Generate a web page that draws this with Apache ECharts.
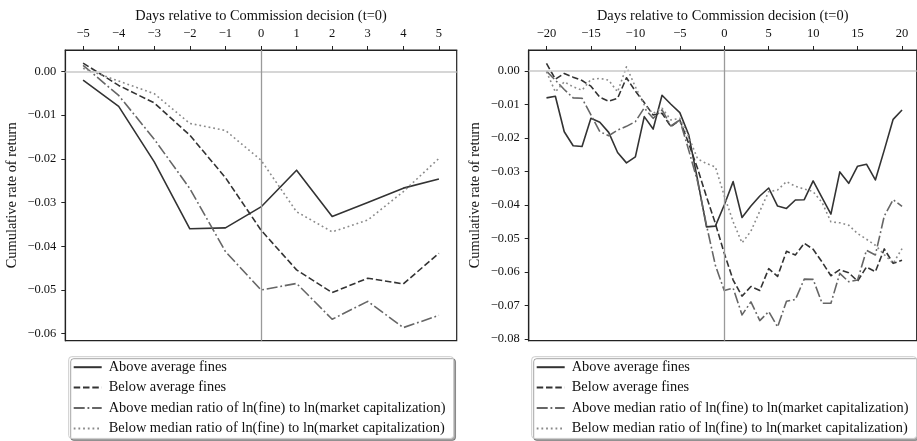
<!DOCTYPE html>
<html>
<head>
<meta charset="utf-8">
<script src="https://cdn.jsdelivr.net/npm/echarts@6/dist/echarts.min.js"></script>
<style>html,body{margin:0;padding:0;background:#fff}#c{width:917px;height:441px}</style>
</head>
<body>
<div id="c"></div>
<script>
const seriesNames = [
  'Above average fines',
  'Below average fines',
  'Above median ratio of ln(fine) to ln(market capitalization)',
  'Below median ratio of ln(fine) to ln(market capitalization)'
];
const xTitle = 'Days relative to Commission decision (t=0)';
const yTitle = 'Cumulative rate of return';

const daysLeft = [-5,-4,-3,-2,-1,0,1,2,3,4,5];
const leftAboveFines = [-0.0020,-0.0080,-0.0207,-0.0360,-0.0358,-0.0310,-0.0226,-0.0332,-0.0300,-0.0267,-0.0246];
const leftBelowFines = [0.0019,-0.0032,-0.0072,-0.0146,-0.0243,-0.0363,-0.0454,-0.0506,-0.0473,-0.0486,-0.0416];
const leftAboveRatio = [0.0014,-0.0055,-0.0155,-0.0268,-0.0412,-0.0500,-0.0485,-0.0567,-0.0526,-0.0586,-0.0558];
const leftBelowRatio = [0.0007,-0.0022,-0.0051,-0.0119,-0.0135,-0.0203,-0.0321,-0.0367,-0.0340,-0.0275,-0.0199];

const daysRight = [-20,-19,-18,-17,-16,-15,-14,-13,-12,-11,-10,-9,-8,-7,-6,-5,-4,-3,-2,-1,0,1,2,3,4,5,6,7,8,9,10,11,12,13,14,15,16,17,18,19,20];
const rightAboveFines = [-0.0080,-0.0075,-0.0181,-0.0223,-0.0225,-0.0141,-0.0153,-0.0183,-0.0243,-0.0274,-0.0256,-0.0136,-0.0173,-0.0072,-0.0099,-0.0124,-0.0190,-0.0325,-0.0465,-0.0463,-0.0400,-0.0330,-0.0437,-0.0403,-0.0373,-0.0349,-0.0403,-0.0410,-0.0385,-0.0384,-0.0328,-0.0378,-0.0427,-0.0301,-0.0335,-0.0284,-0.0278,-0.0325,-0.0236,-0.0144,-0.0116];
const rightBelowFines = [0.0023,-0.0024,-0.0007,-0.0018,-0.0028,-0.0045,-0.0078,-0.0090,-0.0081,-0.0020,-0.0060,-0.0094,-0.0131,-0.0126,-0.0166,-0.0146,-0.0216,-0.0291,-0.0375,-0.0455,-0.0544,-0.0624,-0.0672,-0.0643,-0.0655,-0.0590,-0.0613,-0.0538,-0.0549,-0.0514,-0.0532,-0.0570,-0.0611,-0.0593,-0.0602,-0.0627,-0.0585,-0.0599,-0.0531,-0.0574,-0.0565];
const rightAboveRatio = [0.0000,-0.0027,-0.0055,-0.0080,-0.0081,-0.0131,-0.0181,-0.0193,-0.0176,-0.0165,-0.0151,-0.0110,-0.0141,-0.0116,-0.0164,-0.0146,-0.0236,-0.0330,-0.0460,-0.0580,-0.0655,-0.0648,-0.0728,-0.0689,-0.0745,-0.0718,-0.0764,-0.0687,-0.0682,-0.0621,-0.0622,-0.0693,-0.0693,-0.0604,-0.0629,-0.0624,-0.0535,-0.0549,-0.0433,-0.0384,-0.0404];
const rightBelowRatio = [-0.0002,-0.0062,-0.0032,-0.0047,-0.0057,-0.0025,-0.0022,-0.0027,-0.0062,0.0013,-0.0047,-0.0101,-0.0126,-0.0111,-0.0146,-0.0141,-0.0196,-0.0262,-0.0276,-0.0286,-0.0372,-0.0450,-0.0513,-0.0478,-0.0418,-0.0360,-0.0355,-0.0330,-0.0344,-0.0352,-0.0360,-0.0392,-0.0450,-0.0453,-0.0460,-0.0485,-0.0502,-0.0520,-0.0548,-0.0574,-0.0530];

const xTicksLeft = [-5,-4,-3,-2,-1,0,1,2,3,4,5];
const yTicksLeft = [0,-0.01,-0.02,-0.03,-0.04,-0.05,-0.06];
const xTicksRight = [-20,-15,-10,-5,0,5,10,15,20];
const yTicksRight = [0,-0.01,-0.02,-0.03,-0.04,-0.05,-0.06,-0.07,-0.08];

const FONT = 'Liberation Serif';
const styles = [
  {color:'#333333', type:'solid'},
  {color:'#333333', type:[6.5,2.8]},
  {color:'#666666', type:[11,2.8,1.8,2.8]},
  {color:'#8a8a8a', type:[1.8,2.9]}
];
const fmtX = v => (v < 0 ? '\u2212' : '') + Math.abs(v);
const fmtY = v => (v < -1e-9 ? '\u2212' : '') + Math.abs(v).toFixed(2);

function xAxisCfg(idx, min, max, ticks) {
  return {
    type:'value', gridIndex:idx, position:'top', min:min, max:max,
    name:xTitle, nameLocation:'middle', nameGap:27, nameMoveOverlap:false,
    nameTextStyle:{fontFamily:FONT, fontSize:14.4, color:'#111'},
    axisLine:{show:true, onZero:false, lineStyle:{color:'#222', width:1.2}},
    axisTick:{show:true, inside:false, length:4, customValues:ticks, lineStyle:{color:'#222', width:1}},
    axisLabel:{show:true, customValues:ticks, formatter:fmtX, margin:9.5, fontFamily:FONT, fontSize:12.5, color:'#111'},
    splitLine:{show:false}
  };
}
function yAxisCfg(idx, min, max, ticks) {
  return {
    type:'value', gridIndex:idx, min:min, max:max,
    name:yTitle, nameLocation:'middle', nameGap:46, nameRotate:90,
    nameTextStyle:{fontFamily:FONT, fontSize:14.4, color:'#111'},
    axisLine:{show:true, onZero:false, lineStyle:{color:'#222', width:1.2}},
    axisTick:{show:true, inside:false, length:4, customValues:ticks, lineStyle:{color:'#222', width:1}},
    axisLabel:{show:true, customValues:ticks, formatter:fmtY, margin:9, fontFamily:FONT, fontSize:12.5, color:'#111'},
    splitLine:{show:false}
  };
}

function refSeries(idx) {
  return {
    type:'line', xAxisIndex:idx, yAxisIndex:idx, data:[], silent:true, symbol:'none',
    markLine:{
      silent:true, symbol:'none', animation:false, label:{show:false},
      data:[
        {yAxis:0, lineStyle:{color:'#c8c8c8', width:1.5, type:'solid'}},
        {xAxis:0, lineStyle:{color:'#9a9a9a', width:1.3, type:'solid'}}
      ]
    }
  };
}
function dataSeries(idx, name, days, vals, st) {
  return {
    type:'line', name:name, xAxisIndex:idx, yAxisIndex:idx,
    data: days.map((d,i) => [d, vals[i]]),
    symbol:'none', showSymbol:false,
    lineStyle:{color:st.color, width:1.6, type:st.type, cap:'butt', join:'round'},
    itemStyle:{color:st.color},
    z:3
  };
}
function legendCfg(left, top) {
  return {
    data: seriesNames, orient:'vertical', left:left, top:top,
    itemWidth:28, itemHeight:14, itemGap:6.4,
    padding:[3.5,8,3,4],
    backgroundColor:'#fff', borderColor:'#cccccc', borderWidth:1, borderRadius:3,
    shadowColor:'rgba(0,0,0,0.35)', shadowBlur:0, shadowOffsetX:2, shadowOffsetY:2,
    itemStyle:{opacity:0, color:'transparent', borderWidth:0},
    textStyle:{fontFamily:FONT, fontSize:14.4, color:'#111', padding:[0,0,0,2]},
    selectedMode:false
  };
}

const chart = echarts.init(document.getElementById('c'), null, {renderer:'canvas'});
const leftVals = [leftAboveFines, leftBelowFines, leftAboveRatio, leftBelowRatio];
const rightVals = [rightAboveFines, rightBelowFines, rightAboveRatio, rightBelowRatio];
const series = [refSeries(0), refSeries(1)];
seriesNames.forEach((n,i) => series.push(dataSeries(0, n, daysLeft, leftVals[i], styles[i])));
seriesNames.forEach((n,i) => series.push(dataSeries(1, n, daysRight, rightVals[i], styles[i])));

chart.setOption({
  animation:false,
  backgroundColor:'#fff',
  grid:[
    {left:65.3, top:50, width:391.4, height:290.7, show:true, borderColor:'#222', borderWidth:1.2, backgroundColor:'transparent'},
    {left:528.7, top:50, width:388, height:290.7, show:true, borderColor:'#222', borderWidth:1.2, backgroundColor:'transparent'}
  ],
  xAxis:[xAxisCfg(0,-5.5,5.5,xTicksLeft), xAxisCfg(1,-22,21.65,xTicksRight)],
  yAxis:[yAxisCfg(0,-0.0616,0.0049,yTicksLeft), yAxisCfg(1,-0.0805,0.0063,yTicksRight)],
  legend:[legendCfg(68.7,356.7), legendCfg(531.7,356.7)],
  series:series
});
</script>
</body>
</html>
